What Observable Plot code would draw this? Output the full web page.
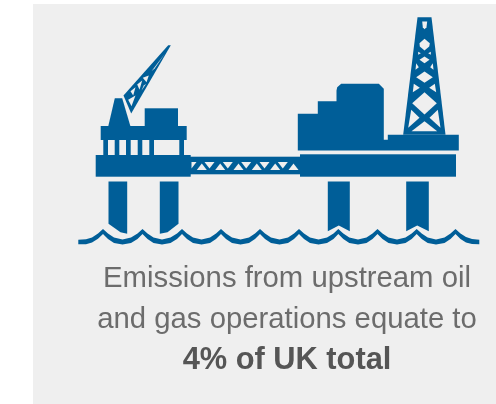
<!DOCTYPE html>
<html>
<head>
<meta charset="utf-8">
<script src="https://cdn.jsdelivr.net/npm/d3@7"></script>
<script src="https://cdn.jsdelivr.net/npm/@observablehq/plot@0.6"></script>
<style>
html,body{margin:0;padding:0;background:#fff;overflow:hidden}
svg{display:block;filter:blur(0.45px)}
</style>
</head>
<body>
<div id="chart"></div>
<script>
const panelColor = "#efefef";
const iconColor = "#005e98";
const textColor = "#6c6c6c";
const boldColor = "#555555";

const panel = [{x1: 33, x2: 496, y1: 4, y2: 404}];

const textLines = [
  {label: "Emissions from upstream oil", x: 286.5, y: 286, weight: "normal"},
  {label: "and gas operations equate to", x: 286.5, y: 327, weight: "normal"},
  {label: "4% of UK total", x: 286.5, y: 368, weight: "bold"}
];

const leftRects = [
  {x1: 95.7, x2: 190.7, y1: 155, y2: 176.7},
  {x1: 100.7, x2: 186.7, y1: 126, y2: 140},
  {x1: 144.7, x2: 178, y1: 108.3, y2: 126},
  {x1: 103.3, x2: 108, y1: 140, y2: 155},
  {x1: 114.7, x2: 119.3, y1: 140, y2: 155},
  {x1: 126, x2: 130.7, y1: 140, y2: 155},
  {x1: 137.7, x2: 142.3, y1: 140, y2: 155},
  {x1: 149.3, x2: 154, y1: 140, y2: 155},
  {x1: 179.3, x2: 184, y1: 140, y2: 155},
  {x1: 190, x2: 300, y1: 156.7, y2: 174.3},
  {x1: 300, x2: 456, y1: 154.3, y2: 176.7}
];

const solidShapes = [
  [[114.3,97.7],[121.7,97.7],[130,126],[107.7,126]],
  [[123,95],[167.7,44.7],[170.3,44.7],[130.7,113]],
  [[108,181],[126.7,181],[126.7,233.3],[120,231.7],[108,223.3]],
  [[159.3,181],[178,181],[178,223.3],[167,231.7],[159.3,233.3]],
  [[327.3,181],[349.3,181],[349.3,230.7],[338.3,225],[327.3,230.7]],
  [[405.7,181],[428.3,181],[428.3,230.7],[416.7,225],[405.7,230.7]],
  [[297.3,150],[297.3,113.3],[317.3,113.3],[317.3,100.7],[336,100.7],[336,90],[336.7,86.7],[340.7,83.3],[378.3,83.3],[383.3,88.3],[383.3,139.3],[387.3,139.3],[387.3,134.3],[458.3,134.3],[458.3,150]],
  [[417,16.7],[431,16.7],[445,134.3],[402.7,134.3]]
];

const holeShapes = [
  // derrick lattice
  [[421.7,21],[426.7,21],[426,26.7],[424,28.7],[422.3,26.7]],
  [[424,38.3],[429.3,42.7],[428.7,46],[424,50],[419.3,46],[419,42.7]],
  [[417.7,51.3],[420.3,52.7],[417.7,54.3]],
  [[430.3,51.3],[427.7,52.7],[430.3,54.3]],
  [[424,56],[429,59.3],[424,62.7],[419,59.3]],
  [[415.7,62.7],[418.3,66.7],[415,69.3]],
  [[432.3,62.7],[429.7,66.7],[433,69.3]],
  [[424,71],[432.3,76.7],[424,82.3],[415.7,76.7]],
  [[413.3,83.3],[419.3,87.3],[412.3,91.7]],
  [[434.3,83.3],[428.7,87.3],[435.7,91.7]],
  [[424,91.7],[436.3,102.7],[424,114],[411.7,102.7]],
  [[410.7,109.3],[419,117.3],[407.7,127.3]],
  [[437.3,109.3],[429,117.3],[440,127.3]],
  [[424,120.7],[436.7,130.7],[411,130.7]],
  // crane lattice
  [[151,70.7],[164.3,53.3],[154.3,67.7]],
  [[142.3,77.3],[148.3,75],[146,81.7]],
  [[136.7,84],[141.7,80],[139,89.3]],
  [[143.3,85],[145.7,83.3],[141,90]],
  [[130,90.7],[135,86.7],[132.7,95]],
  [[127.7,99.3],[135,95],[131,105.7]],
  // bridge truss
  [[191,161.5],[196,161.5],[191,168]],
  [[204,161.5],[214,161.5],[209,168]],
  [[222.3,161.5],[232.3,161.5],[227.3,168]],
  [[240.7,161.5],[250.7,161.5],[245.7,168]],
  [[259,161.5],[269,161.5],[264,168]],
  [[277.3,161.5],[287.3,161.5],[282.3,168]],
  [[196.3,169.5],[206.3,169.5],[201.3,163]],
  [[214.7,169.5],[224.7,169.5],[219.7,163]],
  [[233,169.5],[243,169.5],[238,163]],
  [[251.3,169.5],[261.3,169.5],[256.3,163]],
  [[269.7,169.5],[279.7,169.5],[274.7,163]],
  [[288,169.5],[298,169.5],[293,163]]
];

const waveX = [78.3,86,92,98,103,108,114,122.5,131,137.5,142.5,147.5,153.5,162,170.5,177,182,187,193,201.5,210,216,221,226,232,240.5,249,255,260,265,271,279.5,288,294,299,304,310,318.5,327,333.5,338.3,343.3,349.3,358,366.5,372.5,377.5,382.5,388.5,397,405.5,411.7,416.7,421.7,427.7,436,444.5,450.5,455.5,460.5,466,472,479.3];
const waveTop = [239.7,239.3,237.5,233.5,229,233.5,237.5,239.5,237.5,233.5,229,233.5,237.5,239.5,237.5,233.5,229,233.5,237.5,239.5,237.5,233.5,229,233.5,237.5,239.5,237.5,233.5,229,233.5,237.5,239.5,237.5,233.5,229,233.5,237.5,239.5,237.5,233.5,229,233.5,237.5,239.5,237.5,233.5,229,233.5,237.5,239.5,237.5,233.5,229,233.5,237.5,239.5,237.5,233.5,229,233.5,237,239,239.7];
const waveBottom = [244.3,244.3,242.5,238.7,234,239,243,244.5,243,239,234,239,243,244.5,243,239,234,239,243,244.5,243,239,234,239,243,244.5,243,239,234,239,243,244.5,243,239,234,239,243,244.5,243,239,234,239,243,244.5,243,239,234,239,243,244.5,243,239,234,239,243,244.5,243,239,234,239,242.5,244,244.3];

function polygon(points, fill) {
  return Plot.line(points, {x: d => d[0], y: d => d[1], fill, stroke: "none"});
}

const wave = waveX.map((x, i) => ({x, top: waveTop[i], bottom: waveBottom[i]}));

const chart = Plot.plot({
  width: 496,
  height: 404,
  margin: 0,
  style: {background: "transparent"},
  x: {domain: [0, 496], range: [0, 496], axis: null},
  y: {domain: [0, 404], range: [0, 404], axis: null},
  marks: [
    Plot.rect(panel, {x1: "x1", x2: "x2", y1: "y1", y2: "y2", fill: panelColor}),
    Plot.rect(leftRects, {x1: "x1", x2: "x2", y1: "y1", y2: "y2", fill: iconColor}),
    ...solidShapes.map(s => polygon(s, iconColor)),
    ...holeShapes.map(s => polygon(s, panelColor)),
    Plot.areaY(wave, {x: "x", y1: "top", y2: "bottom", fill: iconColor}),
    Plot.text(textLines.filter(d => d.weight === "normal"), {x: "x", y: "y", text: "label", textAnchor: "middle", lineAnchor: "bottom", fontFamily: "Liberation Sans", fontSize: 29.3, fill: textColor}),
    Plot.text(textLines.filter(d => d.weight === "bold"), {x: "x", y: "y", text: "label", textAnchor: "middle", lineAnchor: "bottom", fontFamily: "Liberation Sans", fontSize: 30.8, fontWeight: "bold", fill: boldColor})
  ]
});
document.getElementById("chart").append(chart);
</script>
</body>
</html>
